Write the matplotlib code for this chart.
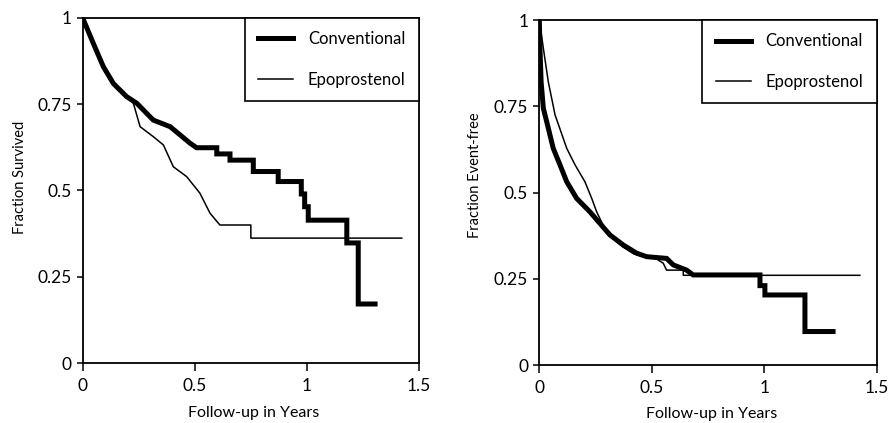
import matplotlib
matplotlib.use("Agg")
import matplotlib.pyplot as plt

plt.rcParams['font.family'] = ['Lato', 'DejaVu Sans']

# ---- Data: left panel (survival) ----
surv_conv_t = [0, 0.047, 0.092, 0.137, 0.196, 0.241, 0.315, 0.39, 0.479, 0.508,
               0.598, 0.598, 0.657, 0.657, 0.761, 0.761, 0.872, 0.872,
               0.975, 0.975, 0.99, 0.99, 1.006, 1.006, 1.178, 1.178, 1.229, 1.229, 1.304]
surv_conv_s = [1, 0.927, 0.859, 0.81, 0.772, 0.753, 0.704, 0.685, 0.637, 0.624,
               0.624, 0.606, 0.606, 0.588, 0.588, 0.555, 0.555, 0.526,
               0.526, 0.49, 0.49, 0.453, 0.453, 0.414, 0.414, 0.348, 0.348, 0.171, 0.171]

surv_epo_t = [0, 0.047, 0.092, 0.137, 0.196, 0.226, 0.256, 0.315, 0.36, 0.404,
              0.464, 0.523, 0.568, 0.612, 0.75, 0.75, 1.423]
surv_epo_s = [1, 0.927, 0.859, 0.81, 0.772, 0.753, 0.685, 0.656, 0.632, 0.569,
              0.54, 0.492, 0.434, 0.40, 0.40, 0.362, 0.362]

# ---- Data: right panel (event-free) ----
ef_conv_t = [0, 0.003, 0.008, 0.018, 0.033, 0.062, 0.092, 0.122, 0.166, 0.225,
             0.27, 0.314, 0.373, 0.433, 0.477, 0.566, 0.596, 0.655, 0.684,
             0.981, 0.981, 1.003, 1.003, 1.181, 1.181, 1.306]
ef_conv_s = [1, 0.918, 0.821, 0.744, 0.705, 0.628, 0.58, 0.531, 0.483, 0.444,
             0.41, 0.377, 0.348, 0.324, 0.314, 0.309, 0.29, 0.275, 0.261,
             0.261, 0.23, 0.23, 0.203, 0.203, 0.097, 0.097]

ef_epo_t = [0, 0.018, 0.04, 0.07, 0.122, 0.159, 0.203, 0.233, 0.255, 0.28,
            0.32, 0.37, 0.42, 0.47, 0.52, 0.551, 0.566, 0.64, 0.64, 1.425]
ef_epo_s = [1, 0.918, 0.821, 0.725, 0.628, 0.58, 0.531, 0.483, 0.444, 0.41,
            0.37, 0.343, 0.322, 0.313, 0.308, 0.295, 0.275, 0.275, 0.26, 0.26]

x_ticks = [0, 0.5, 1, 1.5]
x_tick_labels = ['0', '0.5', '1', '1.5']
y_ticks = [0, 0.25, 0.5, 0.75, 1]
y_tick_labels = ['0', '0.25', '0.5', '0.75', '1']
series_labels = ['Conventional', 'Epoprostenol']

W, H = 891, 423
fig = plt.figure(figsize=(W / 100, H / 100), dpi=100)

def px_axes(x0, x1, ytop, ybot):
    return fig.add_axes([x0 / W, 1 - ybot / H, (x1 - x0) / W, (ybot - ytop) / H])

axL = px_axes(82.7, 419, 18, 363)
axR = px_axes(539.3, 876.7, 20, 365)

panels = [
    (axL, surv_conv_t, surv_conv_s, surv_epo_t, surv_epo_s),
    (axR, ef_conv_t, ef_conv_s, ef_epo_t, ef_epo_s),
]

for ax, ct, cs, et, es in panels:
    ax.plot(ct, cs, color='black', lw=3.6, solid_joinstyle='miter', label=series_labels[0], zorder=3)
    ax.plot(et, es, color='black', lw=1.1, label=series_labels[1], zorder=4)
    ax.set_xlim(0, 1.5)
    ax.set_ylim(0, 1)
    ax.set_xticks(x_ticks)
    ax.set_xticklabels(x_tick_labels)
    ax.set_yticks(y_ticks)
    ax.set_yticklabels(y_tick_labels)
    for sp in ax.spines.values():
        sp.set_linewidth(1.3)
        sp.set_color('black')
    ax.tick_params(axis='x', direction='out', length=6, width=1.1, pad=5, labelsize=12.5)
    ax.tick_params(axis='y', direction='out', length=4.5, width=1.1, pad=3.5, labelsize=12.5)
    leg = ax.legend(loc='upper right', bbox_to_anchor=(1, 1), borderaxespad=0,
                    fancybox=False, framealpha=1, edgecolor='black', fontsize=12,
                    handlelength=2.1, handletextpad=0.9, labelspacing=1.45,
                    borderpad=0.8)
    leg.get_frame().set_linewidth(1.2)

fig.text(20 / W, 1 - 177 / H, 'Fraction Survived', rotation=90, ha='center', va='center', fontsize=10.5)
fig.text(475 / W, 1 - 175 / H, 'Fraction Event-free', rotation=90, ha='center', va='center', fontsize=10.5)
fig.text(254 / W, 1 - 413 / H, 'Follow-up in Years', ha='center', va='center', fontsize=11.5)
fig.text(712 / W, 1 - 414 / H, 'Follow-up in Years', ha='center', va='center', fontsize=11.5)

fig.savefig('out.png', dpi=100)
